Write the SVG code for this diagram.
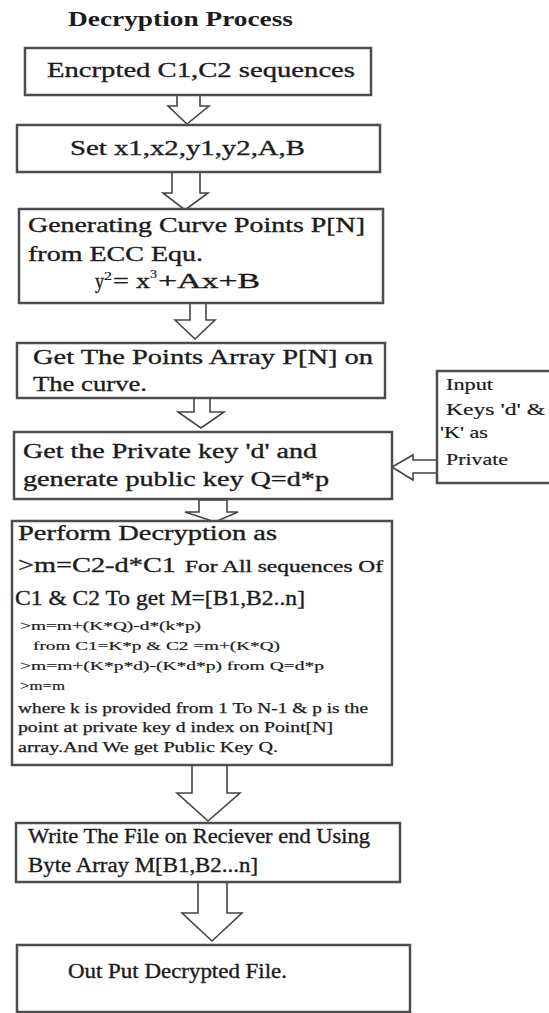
<svg xmlns="http://www.w3.org/2000/svg" width="549" height="1013" viewBox="0 0 549 1013">
  <defs>
    <style>
      .box { fill: #ffffff; stroke: #4d4d4d; stroke-width: 2.5; }
      .arrow { fill: #ffffff; stroke: #444444; stroke-width: 1.6; stroke-linejoin: miter; }
      text { font-family: "Liberation Serif", "Times New Roman", serif; fill: #1c1c1c; stroke: #1c1c1c; stroke-width: 0.35; }
      .title { font-size: 20px; font-weight: bold; stroke-width: 0; }
      .lg { font-size: 22px; }
      .md { font-size: 20px; }
      .sm { font-size: 13px; stroke-width: 0.2; }
      .xs { font-size: 14px; stroke-width: 0.25; }
      .side { font-size: 16px; stroke-width: 0.2; }
      .sup { font-size: 12px; stroke-width: 0.2; }
    </style>
  </defs>
  <rect width="549" height="1013" fill="#ffffff"/>

  <text class="title" x="68" y="26" textLength="225" lengthAdjust="spacingAndGlyphs">Decryption Process</text>

  <!-- block arrows between steps -->
  <g id="connectors">
    <polygon class="arrow" points="177,95 200,95 200,106 209,106 187,124 168,106 177,106"/>
    <polygon class="arrow" points="172,172 200,172 200,193 208,193 185,210 163,193 172,193"/>
    <polygon class="arrow" points="190,303 206,303 206,320 215,320 195,339 175,320 190,320"/>
    <polygon class="arrow" points="194,398 210,398 210,412 224,412 201,428 178,412 194,412"/>
    <polygon class="arrow" points="199,500 227,500 227,512 238,512 215,522 185,512 199,512"/>
    <polygon class="arrow" points="192,765 227,765 227,793 240,793 208,821 177,793 192,793"/>
    <polygon class="arrow" points="198,882 227,882 227,913 242,913 212,941 182,913 198,913"/>
    <polygon class="arrow" points="437,460 413,460 413,455 392,467 413,480 413,473 437,473"/>
  </g>

  <g id="encrypted-input">
    <rect class="box" x="25" y="48" width="346" height="47"/>
    <text class="lg" x="47" y="77" textLength="308" lengthAdjust="spacingAndGlyphs">Encrpted C1,C2 sequences</text>
  </g>

  <g id="set-params">
    <rect class="box" x="17" y="125" width="363" height="47"/>
    <text class="lg" x="70" y="155" textLength="235" lengthAdjust="spacingAndGlyphs">Set  x1,x2,y1,y2,A,B</text>
  </g>

  <g id="curve-points">
    <rect class="box" x="19" y="209" width="364" height="94"/>
    <text class="md" x="28" y="232" textLength="337" lengthAdjust="spacingAndGlyphs">Generating Curve Points P[N]</text>
    <text class="md" x="28" y="261" textLength="175" lengthAdjust="spacingAndGlyphs">from ECC Equ.</text>
    <!-- y^2 = x^3 + Ax + B -->
    <text class="md" x="95" y="288" textLength="9" lengthAdjust="spacingAndGlyphs">y</text>
    <text class="sup" x="104" y="280" textLength="8" lengthAdjust="spacingAndGlyphs">2</text>
    <text class="md" x="113" y="288" textLength="37" lengthAdjust="spacingAndGlyphs">= x</text>
    <text class="sup" x="150" y="278" textLength="7" lengthAdjust="spacingAndGlyphs">3</text>
    <text class="md" x="158" y="288" textLength="102" lengthAdjust="spacingAndGlyphs">+Ax+B</text>
  </g>

  <g id="points-array">
    <rect class="box" x="17" y="343" width="368" height="55"/>
    <text class="lg" x="33" y="364" textLength="340" lengthAdjust="spacingAndGlyphs">Get The Points Array P[N] on</text>
    <text class="lg" x="33" y="391" textLength="114" lengthAdjust="spacingAndGlyphs">The curve.</text>
  </g>

  <g id="private-key">
    <rect class="box" x="14" y="432" width="378" height="67"/>
    <text class="md" x="23" y="458" textLength="294" lengthAdjust="spacingAndGlyphs">Get the Private key 'd' and</text>
    <text class="md" x="23" y="486" textLength="306" lengthAdjust="spacingAndGlyphs">generate public key Q=d*p</text>
  </g>

  <g id="input-keys">
    <rect class="box" x="437" y="371" width="130" height="112"/>
    <text class="side" x="446" y="390" textLength="47" lengthAdjust="spacingAndGlyphs">Input</text>
    <text class="side" x="446" y="415" textLength="99" lengthAdjust="spacingAndGlyphs">Keys 'd' &amp;</text>
    <text class="side" x="440" y="438" textLength="48" lengthAdjust="spacingAndGlyphs">'K'  as</text>
    <text class="side" x="446" y="465" textLength="62" lengthAdjust="spacingAndGlyphs">Private</text>
  </g>

  <g id="decryption">
    <rect class="box" x="12" y="521" width="380" height="244"/>
    <text class="md" x="18" y="540" textLength="259" lengthAdjust="spacingAndGlyphs">Perform Decryption as</text>
    <text class="lg" x="18" y="572" textLength="158" lengthAdjust="spacingAndGlyphs">&gt;m=C2-d*C1</text>
    <text x="185" y="572" font-size="17" textLength="198" lengthAdjust="spacingAndGlyphs">For All sequences Of</text>
    <text class="md" x="15" y="605" textLength="290" lengthAdjust="spacingAndGlyphs">C1 &amp; C2 To get M=[B1,B2..n]</text>
    <text class="sm" x="20" y="630" textLength="181" lengthAdjust="spacingAndGlyphs">&gt;m=m+(K*Q)-d*(k*p)</text>
    <text class="sm" x="33" y="650" textLength="247" lengthAdjust="spacingAndGlyphs">from  C1=K*p &amp; C2 =m+(K*Q)</text>
    <text class="sm" x="20" y="670" textLength="304" lengthAdjust="spacingAndGlyphs">&gt;m=m+(K*p*d)-(K*d*p) from Q=d*p</text>
    <text class="sm" x="20" y="690" textLength="45" lengthAdjust="spacingAndGlyphs">&gt;m=m</text>
    <text class="xs" x="18" y="713" textLength="350" lengthAdjust="spacingAndGlyphs">where k is provided  from 1 To N-1 &amp; p is the</text>
    <text class="xs" x="18" y="732" textLength="315" lengthAdjust="spacingAndGlyphs">point at private key d index on Point[N]</text>
    <text class="xs" x="18" y="752" textLength="260" lengthAdjust="spacingAndGlyphs">array.And We get Public Key Q.</text>
  </g>

  <g id="write-file">
    <rect class="box" x="16" y="823" width="384" height="59"/>
    <text class="md" x="28" y="843" textLength="342" lengthAdjust="spacingAndGlyphs">Write The File on Reciever end Using</text>
    <text class="md" x="28" y="872" textLength="230" lengthAdjust="spacingAndGlyphs">Byte Array M[B1,B2...n]</text>
  </g>

  <g id="output-file">
    <rect class="box" x="17" y="945" width="393" height="67"/>
    <text class="md" x="68" y="978" textLength="219" lengthAdjust="spacingAndGlyphs">Out Put Decrypted File.</text>
  </g>
</svg>
